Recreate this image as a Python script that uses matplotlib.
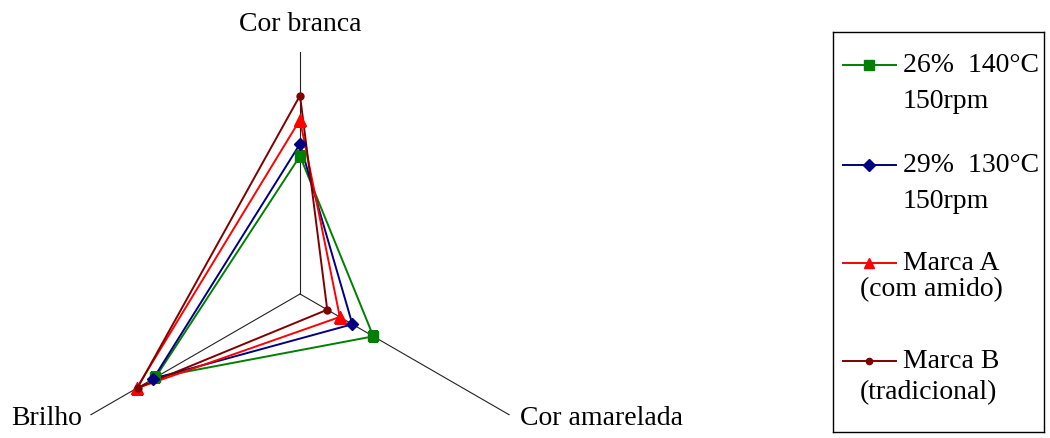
import numpy as np
import matplotlib
matplotlib.use("Agg")
import matplotlib.pyplot as plt

plt.rcParams['font.family'] = ['Liberation Serif', 'DejaVu Serif']

# eixos do radar e notas de cada amostra (escala 0-10)
atributos = ['Cor branca', 'Cor amarelada', 'Brilho']
angulos_graus = [90, -30, 210]

serie_26 = [5.7, 3.5, 6.9]
serie_29 = [6.2, 2.5, 7.0]
marca_a = [7.2, 1.9, 7.8]
marca_b = [8.2, 1.3, 7.75]

nomes = ['26%  140°C\n150rpm', '29%  130°C\n150rpm', 'Marca A\n(com amido)', 'Marca B\n(tradicional)']
cores = ['#008000', '#000080', '#FF0000', '#800000']
marcadores = ['s', 'D', '^', 'o']
tam_marcador = [7.5, 6.5, 8.5, 5]
series = [serie_26, serie_29, marca_a, marca_b]
r_max = 10

W, H = 1050, 439
fig = plt.figure(figsize=(W / 100, H / 100), dpi=100)

# radar: centro em (300, 295) px, raio 242 px
cx, cy, raio = 300, 295, 242
ax = fig.add_axes([(cx - raio) / W, (H - cy - raio) / H, 2 * raio / W, 2 * raio / H],
                  projection='polar')
ax.set_ylim(0, r_max)
ax.grid(False)
ax.set_xticks([])
ax.set_yticks([])
ax.spines['polar'].set_visible(False)
ax.patch.set_alpha(0)

theta = np.deg2rad(angulos_graus)
for t in theta:
    ax.plot([t, t], [0, r_max], color='#222222', lw=0.8, zorder=1)

t_fechado = np.append(theta, theta[0])
for vals, cor, mk, ms in zip(series, cores, marcadores, tam_marcador):
    v = np.append(vals, vals[0])
    ax.plot(t_fechado, v, color=cor, lw=1.4, zorder=3)
    ax.plot(theta, vals, linestyle='none', marker=mk, color=cor, ms=ms, zorder=4)

desloc = [(0, 28, 'center', 'center'), (10, -3, 'left', 'center'), (-8, -3, 'right', 'center')]
for nome, t, (dx, dy, ha, va) in zip(atributos, theta, desloc):
    ax.annotate(nome, xy=(t, r_max), xytext=(dx, dy), textcoords='offset pixels',
                ha=ha, va=va, fontsize=20, annotation_clip=False)

# legenda desenhada à mão, com quebra de linha como no original
x0, x1, y0, y1 = 833, 1044, 33, 433
leg = fig.add_axes([x0 / W, (H - y1) / H, (x1 - x0) / W, (y1 - y0) / H])
leg.set_xlim(x0, x1)
leg.set_ylim(y1, y0)
leg.set_xticks([])
leg.set_yticks([])
for s in leg.spines.values():
    s.set_linewidth(1.0)

y_item = [66, 166, 264, 362]
y_linha2 = [102, 202, 290, 393]
x_linha2 = [903, 903, 860, 860]
for nome, cor, mk, ms, yi, y2, x2 in zip(nomes, cores, marcadores, tam_marcador,
                                        y_item, y_linha2, x_linha2):
    l1, l2 = nome.split('\n')
    leg.plot([843, 896], [yi, yi], color=cor, lw=1.4)
    leg.plot([869.5], [yi], marker=mk, color=cor, ms=ms * 0.9)
    leg.text(903, yi, l1, fontsize=20, ha='left', va='center')
    leg.text(x2, y2, l2, fontsize=20, ha='left', va='center')

fig.savefig('out.png', dpi=100)
